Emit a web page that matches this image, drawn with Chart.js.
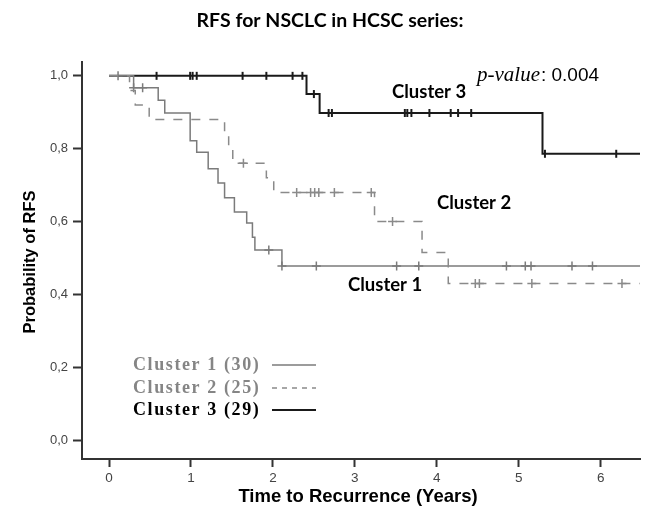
<!DOCTYPE html>
<html>
<head>
<meta charset="utf-8">
<script src="https://cdn.jsdelivr.net/npm/chart.js@4.4.1/dist/chart.umd.min.js"></script>
<style>
  html, body { margin: 0; padding: 0; background: #fff; }
  canvas { display: block; }
</style>
</head>
<body>
<canvas id="km" width="646" height="511"></canvas>
<script>
// Kaplan-Meier steps (time in years, survival)
const c1Times = [0, 0.30, 0.60, 0.68, 0.99, 1.07, 1.21, 1.33, 1.41, 1.53, 1.68, 1.75, 1.78, 2.11, 6.48];
const c1Surv  = [1, 0.967, 0.933, 0.898, 0.822, 0.790, 0.745, 0.706, 0.665, 0.626, 0.596, 0.557, 0.522, 0.478, 0.478];
const c1Censor = [0.11, 0.30, 0.41, 1.95, 2.11, 2.53, 3.51, 3.78, 4.85, 5.08, 5.15, 5.65, 5.90];

const c2Times = [0, 0.25, 0.32, 0.49, 1.41, 1.46, 1.51, 1.92, 2.01, 3.24, 3.82, 4.14, 6.48];
const c2Surv  = [1, 0.96, 0.92, 0.88, 0.84, 0.80, 0.76, 0.72, 0.68, 0.60, 0.515, 0.43, 0.43];
const c2Censor = [1.64, 2.29, 2.46, 2.51, 2.56, 2.75, 3.20, 3.46, 4.47, 4.52, 5.16, 6.26];

const c3Times = [0, 2.41, 2.57, 5.29, 6.48];
const c3Surv  = [1, 0.95, 0.898, 0.786, 0.786];
const c3Censor = [0.58, 0.99, 1.02, 1.07, 1.63, 1.92, 2.24, 2.36, 2.50, 2.68, 2.72, 3.61, 3.64, 3.69, 3.91, 4.17, 4.26, 4.42, 5.32, 6.19];

const xTicks = [0, 1, 2, 3, 4, 5, 6];
const yTicks = [0, 0.2, 0.4, 0.6, 0.8, 1.0];
const yTickLabels = ['0,0', '0,2', '0,4', '0,6', '0,8', '1,0'];

const legendLabels = ['Cluster 1 (30)', 'Cluster 2 (25)', 'Cluster 3 (29)'];

function stepPoints(times, surv) {
  return times.map((t, i) => ({ x: t, y: surv[i] }));
}

// censored patients sit on the curve at their time
function censorPoints(cens, times, surv) {
  return cens.map(t => {
    let s = surv[0];
    times.forEach((e, i) => { if (e <= t) s = surv[i]; });
    return { x: t, y: s };
  });
}

const GRAY1 = '#7b7b7b';
const GRAY2 = '#8a8a8a';
const BLACK = '#1a1a1a';

const textPlugin = {
  id: 'texts',
  afterDraw(chart) {
    const ctx = chart.ctx;
    ctx.save();
    ctx.textBaseline = 'middle';
    ctx.fillStyle = '#000';

    // main title
    ctx.textAlign = 'center';
    ctx.font = 'bold 19.5px Lato';
    ctx.fillText('RFS for NSCLC in HCSC series:', 330, 21);

    // axis titles
    ctx.font = 'bold 18.5px "Liberation Sans"';
    ctx.fillText('Time to Recurrence (Years)', 358, 497);
    ctx.save();
    ctx.translate(30, 262);
    ctx.rotate(-Math.PI / 2);
    ctx.font = 'bold 16.5px "Liberation Sans"';
    ctx.fillText('Probability of RFS', 0, 0);
    ctx.restore();

    // curve labels
    ctx.textAlign = 'left';
    ctx.font = 'bold 18.5px Lato';
    ctx.fillText('Cluster 3', 392, 92);
    ctx.fillText('Cluster 2', 437, 203);
    ctx.fillText('Cluster 1', 348, 285);

    // p-value
    ctx.font = 'italic 21px "Liberation Serif"';
    ctx.fillText('p-value', 477, 75);
    const w = ctx.measureText('p-value').width;
    ctx.font = '19px "Liberation Sans"';
    ctx.fillText(': 0.004', 477 + w + 1, 76);

    // legend
    const rows = [365, 388, 410];
    const cols = [GRAY1, GRAY2, BLACK];
    ctx.font = 'bold 18px "Liberation Serif"';
    ctx.letterSpacing = '1.6px';
    legendLabels.forEach((lab, i) => {
      ctx.fillStyle = i < 2 ? '#858585' : '#000';
      ctx.fillText(lab, 133, rows[i]);
    });
    ctx.letterSpacing = '0px';
    legendLabels.forEach((lab, i) => {
      ctx.beginPath();
      ctx.strokeStyle = cols[i];
      ctx.lineWidth = i === 2 ? 2 : 1.5;
      ctx.setLineDash(i === 1 ? [5, 5] : []);
      ctx.moveTo(272, rows[i]);
      ctx.lineTo(316, rows[i]);
      ctx.stroke();
    });
    ctx.restore();
  }
};

const curve = (data, color, width, dash) => ({
  data, borderColor: color, borderWidth: width, borderDash: dash,
  stepped: 'before', pointRadius: 0, fill: false, showLine: true
});

const marks = (data, color, style, radius, width, rot) => ({
  data, borderColor: color, backgroundColor: color, showLine: false,
  pointStyle: style, pointRadius: radius, pointBorderWidth: width, pointRotation: rot || 0
});

new Chart(document.getElementById('km'), {
  type: 'scatter',
  data: {
    datasets: [
      curve(stepPoints(c2Times, c2Surv), GRAY2, 1.5, [9, 9]),
      marks(censorPoints(c2Censor, c2Times, c2Surv), GRAY2, 'cross', 4.5, 1.5),
      curve(stepPoints(c1Times, c1Surv), GRAY1, 1.5, []),
      marks(censorPoints(c1Censor, c1Times, c1Surv), GRAY1, 'cross', 4.5, 1.5),
      curve(stepPoints(c3Times, c3Surv), BLACK, 2, []),
      marks(censorPoints(c3Censor, c3Times, c3Surv), BLACK, 'line', 4, 2, 90)
    ]
  },
  options: {
    responsive: false,
    animation: false,
    layout: { padding: { top: 62, right: 5, left: 0, bottom: 0 } },
    plugins: { legend: { display: false }, tooltip: { enabled: false }, title: { display: false } },
    scales: {
      x: {
        type: 'linear', min: -0.33, max: 6.48,
        afterBuildTicks: s => { s.ticks = xTicks.map(v => ({ value: v })); },
        afterFit: s => { s.height = 52; },
        ticks: { color: '#444', padding: 3, font: { family: 'Liberation Sans', size: 13.5 }, callback: v => String(v) },
        grid: { drawOnChartArea: false, tickLength: 8, tickColor: '#333', tickWidth: 2 },
        border: { color: '#333', width: 2 }
      },
      y: {
        type: 'linear', min: -0.052, max: 1.038,
        afterBuildTicks: s => { s.ticks = yTicks.map(v => ({ value: v })); },
        afterFit: s => { s.width = 82; },
        ticks: { color: '#444', padding: 5, font: { family: 'Liberation Sans', size: 13 },
          callback: v => yTickLabels[yTicks.findIndex(t => Math.abs(t - v) < 1e-6)] },
        grid: { drawOnChartArea: false, tickLength: 9, tickColor: '#333', tickWidth: 2 },
        border: { color: '#333', width: 2 }
      }
    }
  },
  plugins: [textPlugin]
});
</script>
</body>
</html>
